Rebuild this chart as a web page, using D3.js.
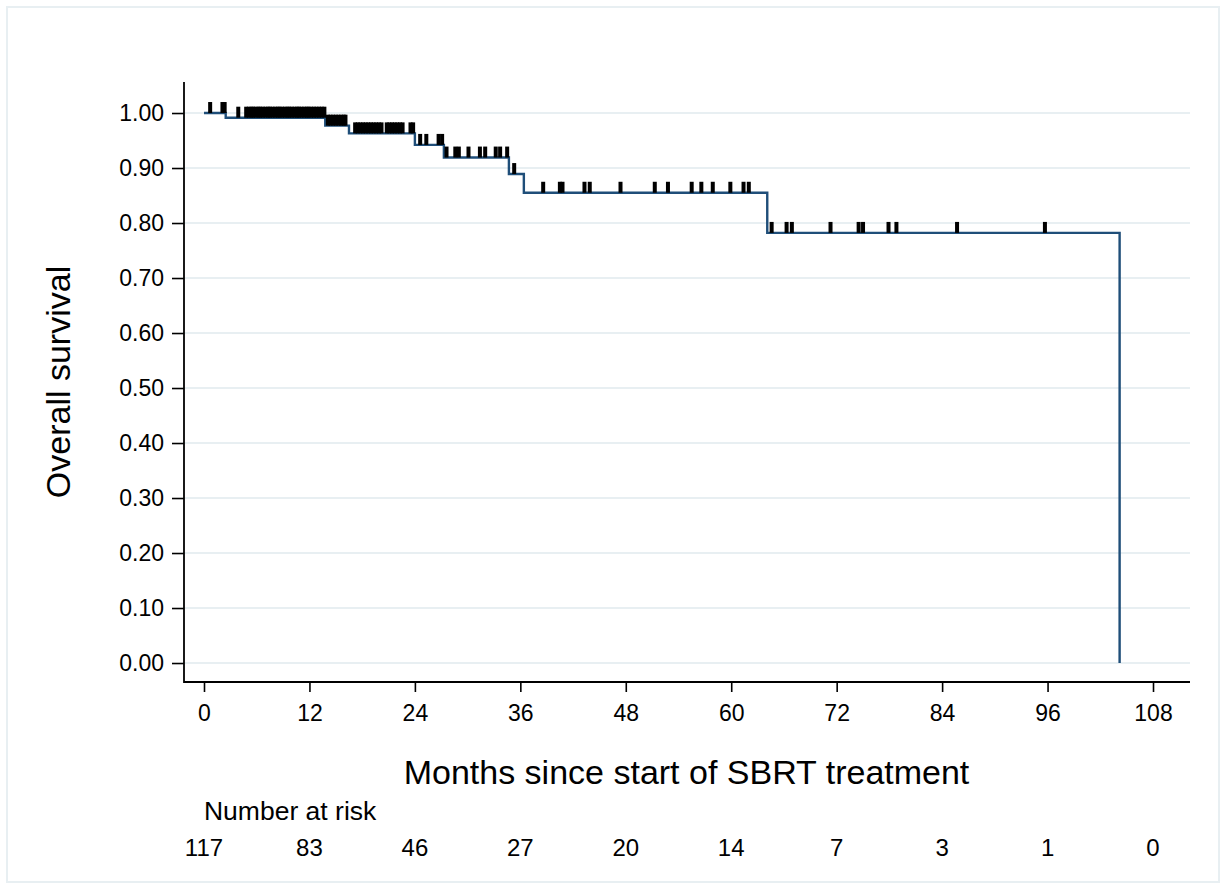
<!DOCTYPE html>
<html>
<head>
<meta charset="utf-8">
<script src="https://cdn.jsdelivr.net/npm/d3@7"></script>
<style>
  body { margin: 0; background: #fff; }
  svg { display: block; }
</style>
</head>
<body>
<svg></svg>
<script>
// step points of the survival curve (month, survival)
const stepTimes = [0, 2.47, 13.8, 16.5, 24.0, 27.3, 34.7, 36.4, 64.1, 104.2];
const stepSurvival = [1, 0.9915, 0.977, 0.963, 0.942, 0.919, 0.889, 0.855, 0.782, 0];

// censored observations (months)
const censorTimes = [
  0.7, 2.1, 2.35, 3.9, 4.8, 5.1, 5.4, 5.6, 5.9, 6.2, 6.4, 6.7, 7.0, 7.3, 7.5, 7.8,
  8.1, 8.4, 8.6, 8.9, 9.2, 9.5, 9.7, 10.0, 10.3, 10.6, 10.8, 11.1, 11.4, 11.7, 11.9,
  12.2, 12.5, 12.8, 13.1, 13.4, 13.7, 14.1, 14.4, 14.7, 15.0, 15.3, 15.6, 15.9, 16.1,
  17.2, 17.5, 17.8, 18.1, 18.4, 18.7, 19.0, 19.3, 19.6, 19.9, 20.2, 20.8, 21.1, 21.4,
  21.7, 22.0, 22.3, 22.6, 23.5, 23.8,
  24.6, 25.3, 26.7, 27.1, 27.6, 28.6, 29.0, 30.1, 31.4, 32.0, 33.2, 33.7, 34.5, 35.3,
  38.6, 40.5, 40.8, 43.3, 43.9, 47.4,
  51.3, 52.8, 55.5, 56.6, 57.9, 59.9,
  61.4, 62.0, 64.6, 66.3, 66.9, 71.3,
  74.5, 75.0, 77.9, 78.8,
  85.7, 95.7
];

const xTicks = [0, 12, 24, 36, 48, 60, 72, 84, 96, 108];
const yTicks = [0, 0.1, 0.2, 0.3, 0.4, 0.5, 0.6, 0.7, 0.8, 0.9, 1.0];
const atRisk = [117, 83, 46, 27, 20, 14, 7, 3, 1, 0];

const WIDTH = 1226;
const HEIGHT = 889;
const LEFT = 184;
const RIGHT = 1190;
const TOP = 82;
const BOTTOM = 682;
const FONT = '"Liberation Sans", Arial, Helvetica, sans-serif';
const LINE_COLOR = '#1f4e79';
const GRID_COLOR = '#e8eff2';

const curveData = stepTimes.map((t, i) => ({ t: t, s: stepSurvival[i] }));

function survivalAt(t) {
  const i = d3.bisectRight(stepTimes, t) - 1;
  return stepSurvival[Math.max(0, i)];
}

const svg = d3.select('svg').
attr('width', WIDTH).
attr('height', HEIGHT).
attr('font-family', FONT);

// outer frame
svg.append('rect').
attr('x', 7).
attr('y', 7).
attr('width', WIDTH - 14).
attr('height', HEIGHT - 14).
attr('fill', '#fff').
attr('stroke', GRID_COLOR).
attr('stroke-width', 2);

/* --SCALES-- */
const xScale = d3.scaleLinear().
domain([-2.276, 112.21]).
range([LEFT, RIGHT]);

const yScale = d3.scaleLinear().
domain([-0.0345, 1.0564]).
range([BOTTOM, TOP]);

/* --GRID-- */
svg.append('g').
selectAll('line').
data(yTicks).
enter().
append('line').
attr('x1', LEFT).
attr('x2', RIGHT).
attr('y1', d => yScale(d)).
attr('y2', d => yScale(d)).
attr('stroke', GRID_COLOR).
attr('stroke-width', 2);

/* --AXES-- */
const yAxis = d3.axisLeft(yScale).
tickValues(yTicks).
tickFormat(d3.format('.2f')).
tickSize(12).
tickPadding(8);

const yAxisG = svg.append('g').
attr('transform', `translate(${LEFT}, 0)`).
call(yAxis);

const xAxis = d3.axisBottom(xScale).
tickValues(xTicks).
tickSize(9).
tickPadding(13);

const xAxisG = svg.append('g').
attr('transform', `translate(0, ${BOTTOM + 1})`).
call(xAxis);

[yAxisG, xAxisG].forEach(g => {
  g.select('.domain').remove();
  g.selectAll('line').attr('stroke', '#000').attr('stroke-width', 1.6);
  g.selectAll('text').
  attr('font-family', FONT).
  attr('font-size', 23).
  attr('fill', '#000');
});

// axis lines (no end caps)
svg.append('line').
attr('x1', LEFT).attr('x2', LEFT).
attr('y1', TOP).attr('y2', BOTTOM + 1).
attr('stroke', '#000').attr('stroke-width', 1.8);

svg.append('line').
attr('x1', LEFT).attr('x2', RIGHT).
attr('y1', BOTTOM).attr('y2', BOTTOM).
attr('stroke', '#000').attr('stroke-width', 1.8);

/* --CURVE-- */
const line = d3.line().
x(d => xScale(d.t)).
y(d => yScale(d.s)).
curve(d3.curveStepAfter);

svg.append('path').
datum(curveData).
attr('d', line).
attr('fill', 'none').
attr('stroke', LINE_COLOR).
attr('stroke-width', 2.4);

// censoring ticks
svg.append('g').
selectAll('rect').
data(censorTimes).
enter().
append('rect').
attr('x', d => xScale(d) - 2).
attr('y', d => yScale(survivalAt(d)) - 11).
attr('width', 4).
attr('height', 11).
attr('fill', '#000');

/* --TEXT-- */
svg.append('text').
attr('x', (xScale(0) + xScale(108)) / 2 + 8).
attr('y', 784).
attr('text-anchor', 'middle').
attr('font-size', 34).
text('Months since start of SBRT treatment');

svg.append('text').
attr('transform', `translate(70, 382) rotate(-90)`).
attr('text-anchor', 'middle').
attr('font-size', 34).
text('Overall survival');

svg.append('text').
attr('x', xScale(0)).
attr('y', 820).
attr('font-size', 26.5).
text('Number at risk');

svg.append('g').
selectAll('text').
data(atRisk).
enter().
append('text').
attr('x', (d, i) => xScale(xTicks[i])).
attr('y', 856).
attr('text-anchor', 'middle').
attr('font-size', 24).
text(d => d);
</script>
</body>
</html>
